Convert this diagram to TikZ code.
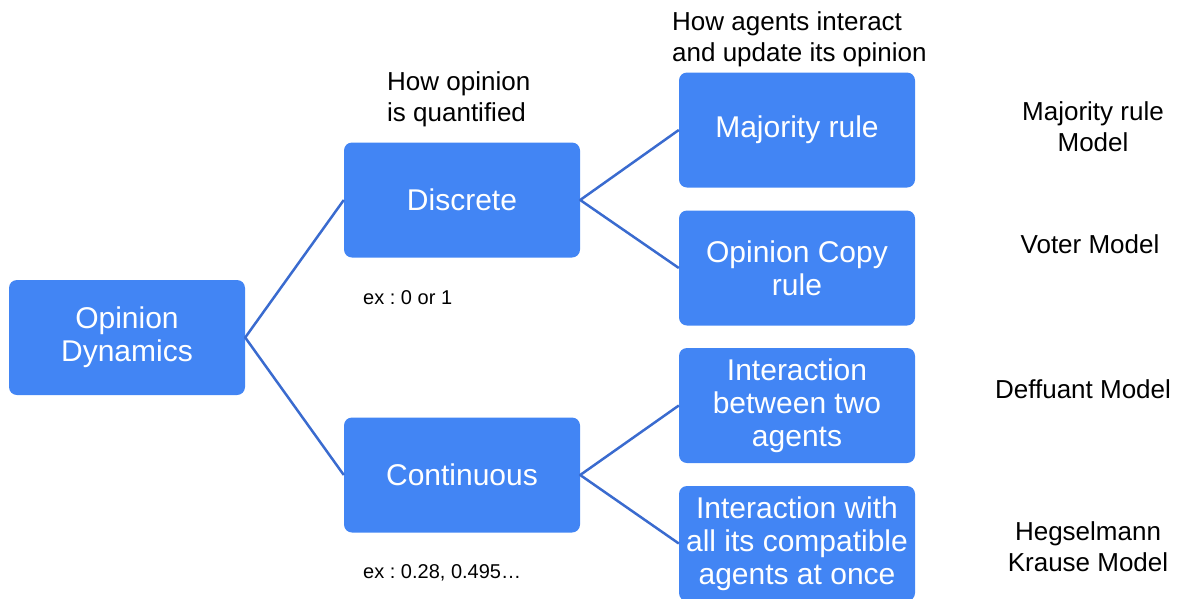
\documentclass[tikz,border=0pt]{standalone}
\usepackage{fontspec}
\setmainfont{Liberation Sans}
\frenchspacing
\definecolor{boxblue}{HTML}{4285F4}
\definecolor{lineblue}{HTML}{3A6BCF}
\begin{document}
\begin{tikzpicture}[x = 1pt, y = -1pt,
    box/.style = {fill = boxblue, rounded corners = 8pt, minimum width = 236pt,
      minimum height = 115pt, inner sep = 0pt, align = center, text = white,
      font = \fontsize{30}{33}\selectfont},
    note/.style = {inner sep = 0pt, align = center, font = \fontsize{26}{31}\selectfont},
    head/.style = {note, align = left, anchor = west},
    ex/.style = {inner sep = 0pt, anchor = west, font = \fontsize{20}{24}\selectfont},
    link/.style = {lineblue, line width = 2.5pt, line join = round}]
    \useasboundingbox (0,0) rectangle (1184,598);
    \node [box] (od)   at (127,337.5) {Opinion\\Dynamics};
    \node [box] (disc) at (462,200)   {Discrete};
    \node [box] (cont) at (462,475)   {Continuous};
    \node [box] (maj)  at (797,130)   {Majority rule};
    \node [box] (copy) at (797,268)   {Opinion Copy\\rule};
    \node [box] (two)  at (797,405.5) {Interaction\\between two\\agents};
    \node [box] (all)  at (797,543.5) {Interaction with\\all its compatible\\agents at once};
    \node [head] (qhead) at (387,99) {How opinion\\is quantified};
    \node [head] (ihead) at (672,39) {How agents interact\\and update its opinion};
    \node [ex] (disc ex) at (363,298) {ex : 0 or 1};
    \node [ex] (cont ex) at (363,573) {ex : 0.28, 0.495…};
    \node [note] (maj m)  at (1093,127) {Majority rule\\Model};
    \node [note] (copy m) at (1090,244) {Voter Model};
    \node [note] (two m)  at (1083,389) {Deffuant Model};
    \node [note] (all m)  at (1088,547) {Hegselmann\\Krause Model};
    \draw [link] (disc.west) -- (od.east) -- (cont.west);
    \draw [link] (maj.west) -- (disc.east) -- (copy.west);
    \draw [link] (two.west) -- (cont.east) -- (all.west);
  \end{tikzpicture}
\end{document}
